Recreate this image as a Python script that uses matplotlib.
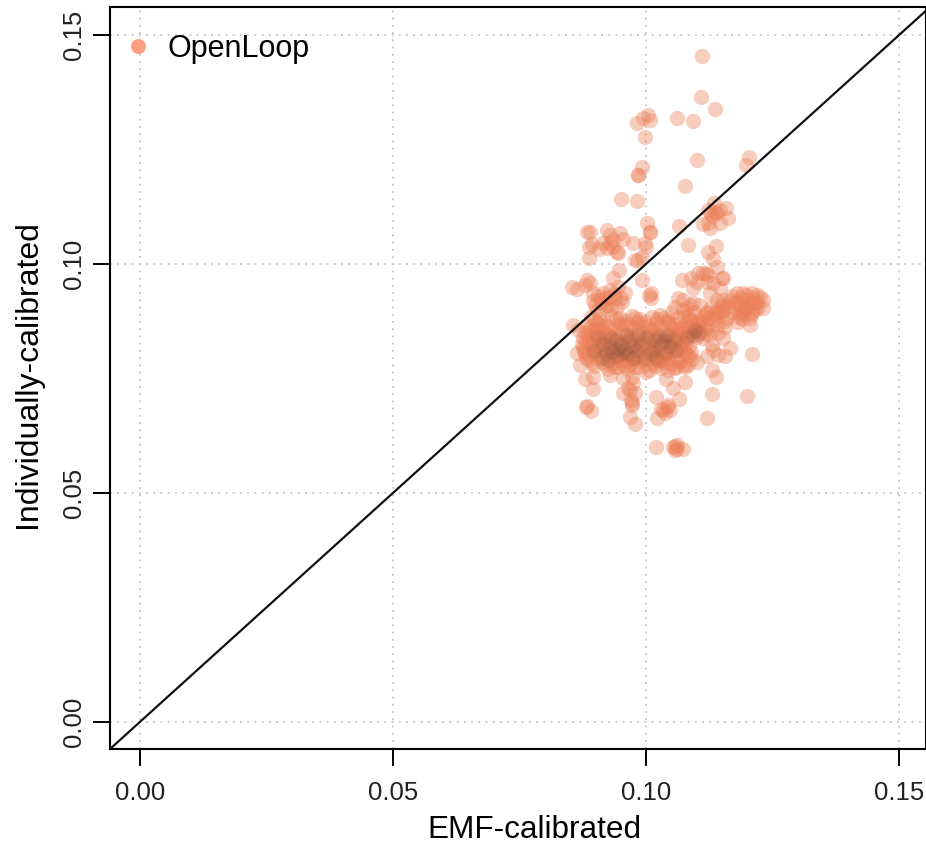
import matplotlib
matplotlib.use("Agg")
import matplotlib.pyplot as plt
from matplotlib.lines import Line2D

plt.rcParams["font.family"] = ["Liberation Sans", "DejaVu Sans"]

# points above the diagonal, top of the cloud
top_x = [.1110,.1109,.1136,.1061,.1093,.1004,.1008,.0994,.0982,.0998,
         .1101,.1204,.1197,.0992,.0984,.0984,.1077,.0950,.0982,.1065,
         .1134,.1123,.1136,.1146,.1158,.1162,.1146,.1126,.1113,.1123,
         .1128,.1140,.1132,.1083,.1138,.1123,.1132,.1140,.1150,.1118]
top_y = [.1455,.1365,.1338,.1319,.1312,.1325,.1314,.1319,.1308,.1277,
         .1227,.1234,.1216,.1212,.1194,.1194,.1170,.1142,.1138,.1083,
         .1133,.1118,.1114,.1118,.1122,.1100,.1090,.1079,.1087,.1090,
         .1110,.1112,.1105,.1041,.1039,.1026,.1011,.0993,.0969,.0980]

# group around x=0.09-0.10, y=0.10
upleft_x = [.0883,.0889,.0923,.0929,.0949,.0955,.0974,.1002,.1008,.1008,
            .0998,.1000,.0992,.0978,.0893,.0887,.0907,.0929,.0935,.0943,
            .0923,.0887,.0945,.0935,.0915,.0984,.0947,.0935,.0992,.0883,
            .0889,.0854,.0864,.0879,.0895,.0915,.0929,.0945,.0958,.0909,
            .0899,.0923,.0943,.1010,.1010,.1005,.0938,.0952,.0920,.0905,
            .0912,.0930,.0895,.0936,.0918,.0903,.0926,.0950]
upleft_y = [.1070,.1070,.1074,.1063,.1068,.1055,.1046,.1090,.1070,.1070,
            .1046,.1037,.1015,.1009,.1044,.1037,.1033,.1046,.1037,.1026,
            .1035,.1013,.1024,.1052,.1046,.1009,.0987,.0969,.0965,.0965,
            .0959,.0950,.0945,.0954,.0937,.0937,.0943,.0950,.0937,.0921,
            .0910,.0910,.0906,.0937,.0926,.0932,.0925,.0918,.0925,.0930,
            .0915,.0902,.0920,.0935,.0905,.0900,.0928,.0925]

# stragglers under the main block
low_x = [.0856,.0866,.0864,.0870,.0879,.0895,.0881,.0884,.0891,.0895,
         .0929,.0955,.0972,.0968,.0955,.0978,.0970,.0972,.0968,.0978,
         .0965,.0975,.0972,.1020,.1053,.1077,.1065,.1022,.1034,.1041,
         .1047,.1038,.1030,.1044,.1020,.1053,.1061,.1057,.1073,.1061,
         .1058,.1121,.1130,.1200,.1209,.1130,.1138,.1152,.1166,.1156,
         .1142,.1121,.1132,.1130,.1101,.1083,.1040,.1000]
low_y = [.0867,.0856,.0806,.0779,.0749,.0727,.0688,.0689,.0679,.0753,
         .0758,.0751,.0753,.0725,.0718,.0718,.0703,.0692,.0666,.0651,
         .0730,.0740,.0697,.0710,.0729,.0742,.0705,.0664,.0681,.0688,
         .0681,.0675,.0683,.0692,.0600,.0600,.0605,.0594,.0596,.0596,
         .0603,.0664,.0716,.0712,.0804,.0769,.0753,.0838,.0817,.0799,
         .0801,.0799,.0812,.0823,.0786,.0779,.0748,.0765]

# block on the right, y about 0.09
right_x = [.1071,.1089,.1103,.1113,.1123,.1101,.1121,.1152,.1132,.1146,
           .1093,.1126,.1063,.1073,.1081,.1093,.1107,.1121,.1140,.1152,
           .1166,.1180,.1192,.1209,.1225,.1231,.1219,.1231,.1215,.1200,
           .1186,.1176,.1190,.1206,.1182,.1206,.1160,.1160,.1156,.1140,
           .1123,.1111,.1097,.1097,.1097,.1103,.1091,.1113,.1130,.1140,
           .1083,.1057,.1051,.1063,.1083,.1087,.1072,.1095,.1110,.1128,
           .1148,.1170,.1188,.1198,.1212,.1196,.1175,.1204,.1220,.1168,
           .1132,.1118,.1105,.1086,.1068,.1078,.1144,.1155,.1184,.1210,
           .1075,.1088,.1100,.1116,.1135,.1150,.1085,.1098,.1112,.1125,
           .1142,.1078,.1092,.1106,.1120,.1136,.1150,.1195,.1185,.1200,
           .1214,.1178,.1190,.1208,.1222]
right_y = [.0965,.0969,.0980,.0980,.0976,.0961,.0961,.0969,.0959,.0948,
           .0948,.0937,.0926,.0921,.0904,.0915,.0910,.0895,.0921,.0921,
           .0921,.0937,.0937,.0937,.0928,.0921,.0915,.0904,.0900,.0921,
           .0910,.0904,.0893,.0882,.0873,.0867,.0906,.0882,.0862,.0884,
           .0882,.0873,.0856,.0853,.0858,.0845,.0849,.0849,.0856,.0867,
           .0860,.0906,.0895,.0882,.0889,.0910,.0900,.0895,.0885,.0905,
           .0912,.0930,.0925,.0932,.0926,.0900,.0915,.0908,.0932,.0895,
           .0888,.0865,.0870,.0875,.0860,.0845,.0895,.0875,.0885,.0895,
           .0885,.0878,.0868,.0858,.0880,.0898,.0852,.0840,.0838,.0845,
           .0850,.0870,.0862,.0878,.0892,.0895,.0905,.0905,.0890,.0912,
           .0915,.0920,.0880,.0890,.0905]

# main block, x 0.087-0.108, y 0.076-0.089
main_x = [.0892,.0908,.0931,.0948,.0972,.0986,.1012,.1028,.1043,
          .0884,.0903,.0922,.0947,.0963,.0984,.1001,.1019,.1041,.1058,
          .0879,.0897,.0913,.0936,.0953,.0977,.0993,.1016,.1033,.1052,.1071,
          .0876,.0891,.0918,.0932,.0958,.0971,.0996,.1012,.1037,.1056,.1068,.1082,
          .0873,.0888,.0906,.0927,.0943,.0966,.0982,.1006,.1024,.1047,.1063,.1079,
          .0878,.0896,.0914,.0938,.0955,.0973,.0991,.1009,.1031,.1052,.1072,.1088,
          .0882,.0901,.0921,.0941,.0961,.0978,.1002,.1018,.1039,.1061,.1084,
          .0893,.0912,.0932,.0951,.0969,.0988,.1013,.1027,.1048,.1066,
          .0924,.0945,.0964,.0984,.1006,.1029,.1044,.1058,.1076,
          .0899,.0916,.0939,.0957,.0976,.0995,.1021,.1035,.1054,.1070,
          .0952,.0961,.0987,.0998,.1025,.1041,.1046,.1060,
          .0907,.0926,.0935,.0949,.0968,.0979,.1004,.1015,.1033,.1067,.1090]
main_y = [.0884,.0879,.0886,.0881,.0887,.0880,.0885,.0889,.0878,
          .0866,.0871,.0864,.0872,.0868,.0873,.0865,.0870,.0874,.0868,
          .0852,.0858,.0850,.0855,.0849,.0857,.0851,.0856,.0848,.0860,.0852,
          .0838,.0843,.0836,.0841,.0835,.0844,.0839,.0842,.0836,.0843,.0838,.0840,
          .0825,.0829,.0822,.0827,.0820,.0828,.0823,.0826,.0821,.0829,.0824,.0827,
          .0811,.0815,.0809,.0813,.0808,.0816,.0810,.0814,.0808,.0815,.0811,.0808,
          .0797,.0801,.0795,.0800,.0794,.0802,.0798,.0796,.0801,.0795,.0799,
          .0783,.0787,.0782,.0786,.0781,.0788,.0784,.0789,.0782,.0786,
          .0771,.0775,.0770,.0774,.0769,.0773,.0768,.0772,.0775,
          .0846,.0833,.0818,.0805,.0792,.0834,.0819,.0806,.0847,.0831,
          .0812,.0806,.0809,.0817,.0803,.0832,.0826,.0838,
          .0858,.0845,.0828,.0816,.0838,.0803,.0812,.0845,.0790,.0812,.0793]

# second pass over the same block, it is nearly solid in the picture
fill_x = [.0900,.0917,.0940,.0958,.0979,.0997,.1021,.1036,
          .0889,.0910,.0930,.0952,.0970,.0990,.1010,.1028,.1048,
          .0884,.0904,.0924,.0944,.0962,.0985,.1003,.1024,.1043,.1063,
          .0881,.0899,.0920,.0936,.0956,.0974,.0994,.1014,.1034,.1053,.1074,
          .0876,.0893,.0911,.0933,.0949,.0969,.0989,.1008,.1029,.1050,.1068,.1085,
          .0880,.0898,.0917,.0937,.0954,.0974,.0996,.1013,.1034,.1055,.1077,
          .0886,.0905,.0926,.0946,.0964,.0983,.1004,.1023,.1044,.1066,
          .0897,.0918,.0938,.0956,.0977,.0999,.1018,.1037,.1057,.1073,
          .0888,.0909,.0934,.0953,.0973,.0992,.1011,.1030,.1052,.1079,
          .0894,.0916,.0929,.0943,.0960,.0981,.1001,.1026,.1046,.1069]
fill_y = [.0878,.0873,.0880,.0875,.0882,.0874,.0879,.0883,
          .0860,.0865,.0858,.0866,.0862,.0867,.0859,.0864,.0868,
          .0846,.0851,.0844,.0849,.0843,.0851,.0845,.0850,.0842,.0854,
          .0832,.0837,.0830,.0835,.0829,.0838,.0833,.0836,.0830,.0837,.0832,
          .0819,.0823,.0816,.0821,.0814,.0822,.0817,.0820,.0815,.0823,.0818,.0821,
          .0805,.0809,.0803,.0807,.0802,.0810,.0804,.0808,.0802,.0809,.0805,
          .0791,.0795,.0789,.0794,.0788,.0796,.0792,.0790,.0795,.0789,
          .0777,.0781,.0776,.0780,.0775,.0782,.0778,.0783,.0776,.0780,
          .0803,.0812,.0798,.0826,.0815,.0830,.0812,.0798,.0836,.0806,
          .0828,.0840,.0812,.0790,.0828,.0795,.0838,.0790,.0808,.0846]

# darkest spots of the block
core_x = [.0935,.0945,.0952,.0958,.0965,.0942,.0950,.0975,.0982,.0990,
          .1010,.1025,.1035,.1042,.1030,.1018,.1097,.1105,.1092,.0928,.0920,
          .0905,.0915,.0930,.0968,.0985,.1000,.1015,.1048,.1056,.0898,.0912,
          .0960,.0975,.0995,.1020,.1040,.1060,.0925,.0940,.1080]
core_y = [.0808,.0815,.0806,.0812,.0803,.0800,.0822,.0820,.0812,.0826,
          .0805,.0842,.0835,.0845,.0826,.0835,.0856,.0849,.0845,.0818,.0805,
          .0840,.0825,.0838,.0835,.0845,.0840,.0815,.0820,.0835,.0810,.0795,
          .0845,.0795,.0795,.0795,.0805,.0812,.0790,.0835,.0840]

ticks = [0.00, 0.05, 0.10, 0.15]
tick_labels = ["0.00", "0.05", "0.10", "0.15"]

fig = plt.figure(figsize=(9.26, 8.43), dpi=100)
ax = fig.add_axes([110/926, 1-749/843, 816/926, 742/843])

ax.set_xlim(-0.0059, 0.1553)
ax.set_ylim(-0.0059, 0.1561)
ax.grid(True, color="#c4c4c4", linestyle=(0, (1, 3)), linewidth=1.3)
ax.set_axisbelow(True)

pt_col = "#EC7F56"
for xs, ys in [(top_x, top_y), (upleft_x, upleft_y), (low_x, low_y),
               (right_x, right_y), (main_x, main_y), (fill_x, fill_y)]:
    ax.scatter(xs, ys, s=122, c=pt_col, alpha=0.38, linewidths=0, zorder=3)
ax.scatter(core_x, core_y, s=122, c="#5a4036", alpha=0.11, linewidths=0, zorder=3)

ax.plot([-0.01, 0.16], [-0.01, 0.16], color="#111111", lw=1.6, zorder=4)

ax.set_xticks(ticks)
ax.set_xticklabels(tick_labels)
ax.set_yticks(ticks)
ax.set_yticklabels(tick_labels, rotation=90, va="center")
ax.tick_params(axis="both", length=12, width=1.4, labelsize=18.5, labelcolor="#222222")
ax.tick_params(axis="x", pad=11)
ax.tick_params(axis="y", pad=5)
for s in ax.spines.values():
    s.set_linewidth(1.5)

ax.set_xlabel("EMF-calibrated", fontsize=22.7, labelpad=7, x=(534-110)/816)
ax.set_ylabel("Individually-calibrated", fontsize=23, labelpad=14, y=0.505)

hnd = Line2D([], [], marker="o", linestyle="none", color="#FF9E80",
             markersize=10.8, markeredgewidth=0)
ax.legend([hnd], ["OpenLoop"], loc="upper left", frameon=False, fontsize=22,
          bbox_to_anchor=(0.0, 0.981), borderpad=0, handlelength=1,
          handletextpad=0.47, borderaxespad=0.415)

fig.savefig("out.png", dpi=100)
